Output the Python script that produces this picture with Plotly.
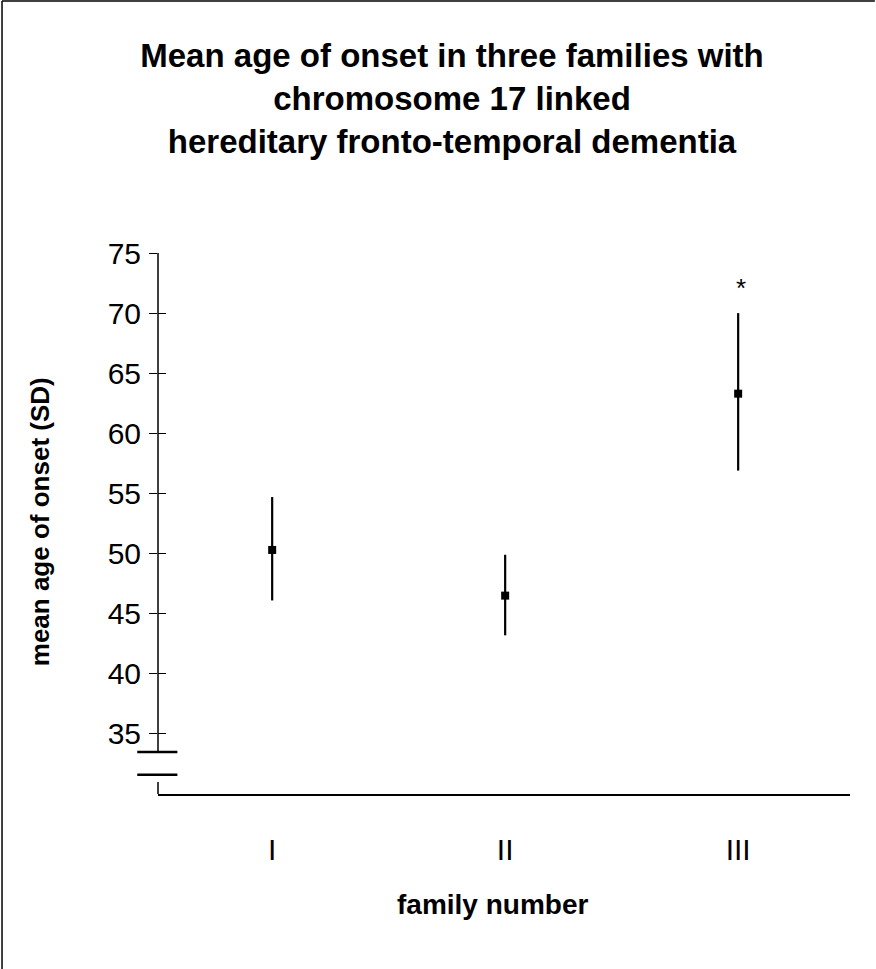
import plotly.graph_objects as go

# ---- data ----
families = ["I", "II", "III"]
family_pos = [1, 2, 3]
mean_onset = [50.3, 46.5, 63.3]
sd_plus = [4.4, 3.4, 6.7]
sd_minus = [4.2, 3.3, 6.4]
star_value = 72.5
y_ticks = [35, 40, 45, 50, 55, 60, 65, 70, 75]
break_low, break_high = 31.6, 33.5

FONT = "Liberation Sans, Arial, sans-serif"

fig = go.Figure()
fig.add_trace(go.Scatter(
    x=family_pos, y=mean_onset, mode="markers",
    marker=dict(symbol="square", size=8, color="black"),
    error_y=dict(type="data", symmetric=False, array=sd_plus, arrayminus=sd_minus,
                 color="black", thickness=2.2, width=0),
    showlegend=False, hoverinfo="skip",
))
# invisible trace for the overlaid tick axis
fig.add_trace(go.Scatter(x=family_pos, y=mean_onset, yaxis="y2", mode="markers",
                         marker=dict(opacity=0), showlegend=False, hoverinfo="skip"))

fig.add_annotation(x=3, y=star_value, text="*", showarrow=False,
                   font=dict(family=FONT, size=26, color="black"), yshift=-5, xshift=3)

# axis titles
fig.add_annotation(xref="paper", yref="paper", x=-0.17, y=0.503, xanchor="center", yanchor="middle",
                   text="<b>mean age of onset (SD)</b>",
                   textangle=-90, showarrow=False, font=dict(family=FONT, size=26, color="black"))
fig.add_annotation(xref="paper", yref="paper", x=0.484, y=-0.205, xanchor="center", yanchor="middle",
                   text="<b>family number</b>",
                   showarrow=False, font=dict(family=FONT, size=28, color="black"))

ymin, ymax = 30, 75
# y axis line with break
fig.add_shape(type="line", xref="paper", yref="y", x0=0, x1=0, y0=break_high, y1=ymax,
              line=dict(color="black", width=1.5))
fig.add_shape(type="line", xref="paper", yref="y", x0=0, x1=0, y0=ymin, y1=31.0,
              line=dict(color="black", width=1.5))
for yb in (break_low, break_high):
    fig.add_shape(type="line", xref="paper", yref="y", x0=-0.03, x1=0.028, y0=yb, y1=yb,
                  line=dict(color="black", width=2.5))
# frame (left and top)
fig.add_shape(type="line", xref="paper", yref="paper", x0=-0.2254, x1=-0.2254, y0=-0.35, y1=1.466,
              line=dict(color="black", width=1.5))
fig.add_shape(type="line", xref="paper", yref="paper", x0=-0.2254, x1=1.036, y0=1.466, y1=1.466,
              line=dict(color="black", width=1.5))

fig.update_layout(
    width=876, height=969,
    margin=dict(l=158, r=26, t=253, b=175),
    paper_bgcolor="white", plot_bgcolor="white",
    font=dict(family=FONT, color="black"),
    title=dict(text="<b>Mean age of onset in three families with<br>chromosome 17 linked<br>hereditary fronto-temporal dementia</b>",
               x=0.516, xanchor="center", y=0.931, yanchor="top", yref="container",
               font=dict(family=FONT, size=33, color="black")),
    xaxis=dict(range=[0.51, 3.48], tickvals=family_pos, ticktext=families, ticks="",
               showline=True, linecolor="black", linewidth=1.5, showgrid=False, zeroline=False,
               tickfont=dict(size=30), ticklabelstandoff=28),
    yaxis=dict(range=[ymin, ymax], tickvals=y_ticks, ticks="outside", ticklen=8, tickwidth=1.2,
               tickcolor="black", showline=False, showgrid=False, zeroline=False,
               tickfont=dict(size=30), ticklabelstandoff=2),
    yaxis2=dict(range=[ymin, ymax], overlaying="y", side="left", tickvals=y_ticks,
                ticks="inside", ticklen=8, tickwidth=1.2, tickcolor="black",
                showticklabels=False, showline=False, showgrid=False, zeroline=False),
)

fig.write_html("out.html")
